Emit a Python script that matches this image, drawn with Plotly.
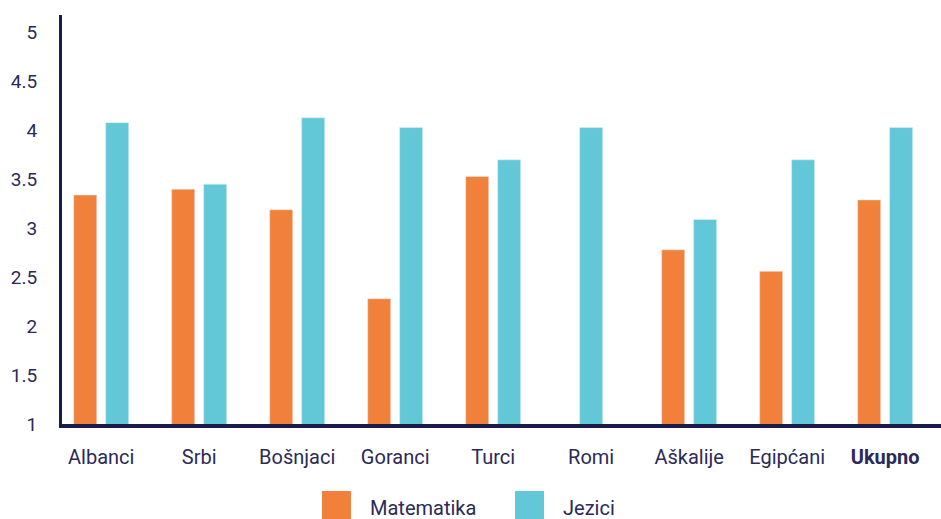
import plotly.graph_objects as go

# Prosječne ocjene po zajednicama
categories = ["Albanci", "Srbi", "Bošnjaci", "Goranci", "Turci",
              "Romi", "Aškalije", "Egipćani", "Ukupno"]
matematika = [3.34, 3.40, 3.19, 2.28, 3.53, None, 2.78, 2.56, 3.29]
jezici = [4.08, 3.45, 4.13, 4.03, 3.70, 4.03, 3.09, 3.70, 4.03]
y_ticks = [1, 1.5, 2, 2.5, 3, 3.5, 4, 4.5, 5]
y_ticktext = ["1", "1.5", "2", "2.5", "3", "3.5", "4", "4.5", "5"]

ORANGE = "#F0803A"
CYAN = "#62C8D8"
NAVY = "#1B1A4B"
TEXT = "#2B2A58"
FONT = "Roboto"

W, H = 941, 519
ML, MR, MT, MB = 62, 0, 15, 95
PW, PH = W - ML - MR, H - MT - MB

BAR_W = 0.235     # bar width in category units
HALF_SEP = 0.163  # distance of each bar centre from the category centre

tick_text = [f"<b>{c}</b>" if c == "Ukupno" else c for c in categories]
xs = list(range(len(categories)))

# A category with only one value gets its single bar centred on the tick
mat_offset = [-HALF_SEP - BAR_W / 2] * len(categories)
jez_offset = [(-BAR_W / 2 if m is None else HALF_SEP - BAR_W / 2)
              for m in matematika]

fig = go.Figure()
fig.add_trace(go.Bar(name="Matematika", x=xs, y=matematika,
                     offset=mat_offset, width=BAR_W,
                     marker_color=ORANGE, showlegend=False))
fig.add_trace(go.Bar(name="Jezici", x=xs, y=jezici,
                     offset=jez_offset, width=BAR_W,
                     marker_color=CYAN, showlegend=False))


def px_x(p):
    return (p - ML) / PW


def px_y(p):
    return (H - MB - p) / PH


# Legend drawn as large swatches with labels below the plot
legend_items = [("Matematika", ORANGE, 322), ("Jezici", CYAN, 515)]
for label, color, left in legend_items:
    fig.add_shape(type="rect", xref="paper", yref="paper",
                  x0=px_x(left), x1=px_x(left + 29),
                  y0=px_y(520), y1=px_y(491),
                  fillcolor=color, line_width=0, layer="above")
    fig.add_annotation(xref="paper", yref="paper",
                       x=px_x(left + 46), y=px_y(508),
                       text=label, showarrow=False,
                       xanchor="left", yanchor="middle",
                       font=dict(family=FONT, size=20, color=TEXT))

fig.update_layout(
    width=W, height=H,
    margin=dict(l=ML, r=MR, t=MT, b=MB, pad=0),
    paper_bgcolor="white", plot_bgcolor="white",
    barmode="overlay",
    font=dict(family=FONT, color=TEXT),
)
fig.update_xaxes(
    range=[-0.40, 8.57],
    tickmode="array", tickvals=xs, ticktext=tick_text,
    tickfont=dict(family=FONT, size=20, color=TEXT),
    showline=True, linecolor=NAVY, linewidth=4,
    showgrid=False, zeroline=False,
    ticks="", ticklabelstandoff=12,
)
fig.update_yaxes(
    range=[1, 5.18],
    tickmode="array", tickvals=y_ticks, ticktext=y_ticktext,
    tickfont=dict(family=FONT, size=19, color=TEXT),
    showline=True, linecolor=NAVY, linewidth=3,
    showgrid=False, zeroline=False,
    ticks="", ticklabelstandoff=18,
)

fig.write_html("out.html")
